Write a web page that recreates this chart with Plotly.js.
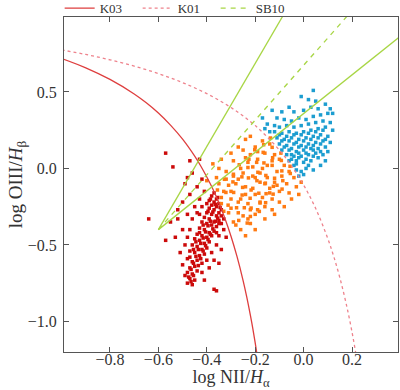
<!DOCTYPE html>
<html>
<head>
<meta charset="utf-8">
<script src="https://cdn.plot.ly/plotly-3.0.1.min.js"></script>
<style>
  html, body { margin: 0; padding: 0; background: #fff; }
  #myDiv { width: 400px; height: 390px; }
</style>
</head>
<body>
<div id="myDiv"></div>
<script>
// dividing curves
var k03X = [-1.0, -0.9, -0.8, -0.7, -0.65, -0.6, -0.55, -0.5, -0.45, -0.425, -0.4, -0.375, -0.35, -0.325, -0.3, -0.275, -0.25, -0.235, -0.22, -0.21, -0.2, -0.19];
var k03Y = [0.719, 0.658, 0.582, 0.487, 0.429, 0.362, 0.283, 0.191, 0.08, 0.016, -0.056, -0.135, -0.225, -0.327, -0.443, -0.577, -0.733, -0.84, -0.959, -1.046, -1.14, -1.242];

var k01X = [-1.0, -0.9, -0.8, -0.7, -0.6, -0.5, -0.4, -0.3, -0.2, -0.1, -0.05, 0.0, 0.05, 0.1, 0.125, 0.15, 0.175, 0.2, 0.22];
var k01Y = [0.775, 0.745, 0.71, 0.669, 0.62, 0.561, 0.489, 0.398, 0.28, 0.12, 0.017, -0.108, -0.262, -0.459, -0.578, -0.716, -0.878, -1.069, -1.25];

var sb10X = [-0.6, 0.2];
var sb10Y = [-0.4, 1.032];

var wedgeUpX = [-0.6, 0.0];
var wedgeUpY = [-0.4, 1.23];
var wedgeLoX = [-0.6, 0.4];
var wedgeLoY = [-0.4, 0.865];

// galaxies, red group
var redX = [-0.37, -0.38, -0.36, -0.37, -0.39, -0.35, -0.36, -0.38, -0.40, -0.34, -0.35, -0.37, -0.39, -0.36, -0.38, -0.40, -0.34, -0.33, -0.35, -0.37, -0.39, -0.41, -0.36, -0.38, -0.40, -0.42, -0.34,
  -0.37, -0.39, -0.41, -0.43, -0.38, -0.40, -0.42, -0.44, -0.39, -0.41, -0.43, -0.45, -0.40, -0.42, -0.44, -0.46, -0.41, -0.43, -0.45, -0.47,
  -0.44, -0.46, -0.48, -0.42, -0.45, -0.47, -0.44, -0.46, -0.48, -0.47, -0.45, -0.48, -0.46,
  -0.41, -0.43, -0.45, -0.44, -0.47, -0.49, -0.42, -0.46, -0.50, -0.48, -0.46, -0.44, -0.52, -0.50, -0.48, -0.52, -0.55, -0.47, -0.49, -0.51, -0.50, -0.49, -0.47, -0.43, -0.57, -0.54, -0.48, -0.64, -0.57, -0.53,
  -0.33, -0.35, -0.32, -0.36, -0.34, -0.38, -0.37, -0.40, -0.39, -0.42, -0.35, -0.36, -0.37, -0.41,
  -0.355, -0.365, -0.345, -0.375, -0.355, -0.385, -0.395, -0.375, -0.405, -0.385, -0.415, -0.395, -0.425, -0.405, -0.435, -0.415, -0.445, -0.425,
  -0.455, -0.435, -0.465, -0.455, -0.475, -0.465, -0.385, -0.395, -0.415, -0.43, -0.445, -0.455, -0.47, -0.365, -0.35, -0.36, -0.42, -0.43];
var redY = [-0.16, -0.18, -0.2, -0.22, -0.21, -0.23, -0.25, -0.24, -0.23, -0.27, -0.29, -0.27, -0.26, -0.31, -0.3, -0.29, -0.31, -0.33, -0.34, -0.35, -0.33, -0.32, -0.38, -0.37, -0.36, -0.35, -0.36,
  -0.41, -0.42, -0.4, -0.39, -0.44, -0.45, -0.44, -0.43, -0.48, -0.49, -0.47, -0.46, -0.52, -0.53, -0.51, -0.5, -0.56, -0.57, -0.55, -0.54,
  -0.6, -0.61, -0.59, -0.62, -0.64, -0.65, -0.67, -0.69, -0.68, -0.72, -0.73, -0.75, -0.76,
  -0.15, -0.2, -0.25, -0.12, -0.17, -0.1, -0.07, -0.03, -0.22, -0.3, -0.33, -0.29, -0.33, -0.4, -0.45, -0.27, -0.35, -0.4, -0.5, -0.55, -0.63, -0.7, 0.05, 0.06, 0.1, 0.01, -0.06, -0.33, -0.47, -0.45,
  -0.4, -0.44, -0.45, -0.5, -0.53, -0.55, -0.6, -0.6, -0.65, -0.68, -0.62, -0.8, -0.79, -0.73,
  -0.19, -0.235, -0.255, -0.285, -0.325, -0.345, -0.375, -0.395, -0.415, -0.43, -0.455, -0.465, -0.49, -0.505, -0.53, -0.54, -0.575, -0.59,
  -0.62, -0.635, -0.66, -0.7, -0.71, -0.74, -0.2, -0.28, -0.37, -0.42, -0.48, -0.53, -0.58, -0.345, -0.36, -0.42, -0.25, -0.3];

// orange group
var orangeX = [-0.356, -0.312, -0.268, -0.321, -0.277, -0.233, -0.327, -0.289, -0.245, -0.220, -0.292, -0.254, -0.217, -0.290, -0.252, -0.221, -0.183,
  -0.255, -0.217, -0.180, -0.266, -0.228, -0.185, -0.157, -0.230, -0.193, -0.155, -0.226, -0.189, -0.158, -0.126, -0.194, -0.156, -0.125,
  -0.202, -0.164, -0.120, -0.089, -0.167, -0.130, -0.086, -0.165, -0.128, -0.090, -0.130, -0.092, -0.055, -0.137, -0.094, -0.056,
  -0.26, -0.24, -0.21, -0.18, -0.20, -0.23, -0.27, -0.30, -0.28, -0.25, -0.17, -0.15, -0.14, -0.17, -0.11, -0.13, -0.16, -0.19, -0.21, -0.24, -0.10, -0.08, -0.12, -0.19, -0.23, -0.28, -0.33, -0.34, -0.31, -0.20,
  -0.375, -0.34, -0.30, -0.27, -0.24, -0.32, -0.36, -0.29, -0.22, -0.40, -0.35,
  -0.03, -0.06, -0.10, -0.13, -0.02, -0.08, -0.16, -0.20, -0.24, -0.12, -0.05, -0.01,
  -0.34, -0.31, -0.29, -0.26, -0.22, -0.20, -0.16, -0.13, -0.10, -0.07, -0.04, -0.06, -0.09, -0.11, -0.14, -0.18, -0.22, -0.25, -0.30, -0.27,
  -0.24, -0.21, -0.18, -0.15, -0.12, -0.14, -0.17, -0.19, -0.22, -0.25, -0.23, -0.26, -0.29, -0.32, -0.35, -0.33, -0.30, -0.27, -0.20, -0.16];
var orangeY = [-0.141, -0.240, -0.340, -0.157, -0.257, -0.357, -0.071, -0.157, -0.257, -0.314, -0.088, -0.174, -0.259, -0.038, -0.124, -0.195, -0.281,
  -0.055, -0.141, -0.226, 0.024, -0.062, -0.162, -0.224, 0.006, -0.080, -0.165, 0.060, -0.025, -0.096, -0.168, 0.040, -0.046, -0.117,
  0.122, 0.036, -0.064, -0.135, 0.105, 0.020, -0.080, 0.155, 0.070, -0.016, 0.138, 0.052, -0.033, 0.199, 0.100, 0.014,
  -0.2, -0.12, -0.05, -0.09, -0.17, -0.23, -0.29, -0.2, -0.1, -0.03, 0.0, -0.06, -0.13, -0.19, -0.02, 0.05, 0.1, 0.06, 0.01, 0.07, 0.06, 0.02, -0.09, -0.27, -0.33, -0.37, -0.28, -0.19, -0.11, 0.14,
  0.03, 0.06, 0.1, 0.14, 0.19, -0.02, -0.06, 0.05, 0.21, -0.08, 0.0,
  -0.12, -0.16, -0.22, -0.27, -0.17, -0.25, -0.33, -0.4, -0.44, -0.3, -0.2, -0.09,
  -0.23, -0.29, -0.35, -0.4, -0.36, -0.3, -0.25, -0.2, -0.15, -0.1, -0.06, -0.02, -0.05, -0.11, -0.16, -0.22, -0.27, -0.31, -0.26, -0.22,
  -0.17, -0.13, -0.03, 0.02, 0.09, 0.16, 0.18, 0.11, 0.09, 0.12, 0.04, 0.0, -0.05, -0.07, -0.1, -0.15, -0.15, -0.07, -0.06, -0.1];

// blue group
var blueX = [-0.02, -0.01, 0.0, -0.03, 0.01, -0.04, 0.02,
  -0.06, -0.03, 0.0, 0.03, 0.06, -0.07, -0.04, -0.01, 0.02, 0.05, 0.08,
  -0.09, -0.06, -0.03, 0.0, 0.03, 0.06, 0.09, -0.1, -0.07, -0.04, -0.01, 0.02, 0.05, 0.08, -0.11, -0.08, -0.05, -0.02, 0.01, 0.04, 0.07, 0.1,
  -0.12, -0.09, -0.06, -0.03, 0.0, 0.03, 0.06, 0.09, -0.1, -0.07, -0.04, -0.01, 0.02, 0.05, 0.08, 0.11, -0.08, -0.05, -0.02, 0.01, 0.04, 0.07, 0.1,
  -0.04, 0.0, 0.03, 0.06, 0.09, 0.02, 0.05, -0.01, 0.04, 0.12, 0.11,
  -0.17, -0.15, -0.13, -0.11, -0.14, -0.12, -0.09, -0.06, -0.16,
  0.09, 0.1, 0.07, 0.04, 0.11, 0.12,
  -0.05, -0.02, 0.01, 0.04, 0.07, -0.08, -0.05, -0.02, 0.01, 0.04, 0.07, -0.09, -0.06, -0.03, 0.0, 0.03, 0.06, 0.09,
  -0.1, -0.07, -0.04, -0.01, 0.02, 0.05, 0.08, -0.05, -0.02, 0.01, 0.04, -0.03];
var blueY = [-0.05, -0.02, -0.04, -0.01, 0.0, 0.02, 0.02,
  0.05, 0.05, 0.04, 0.05, 0.07, 0.09, 0.08, 0.08, 0.09, 0.1, 0.09,
  0.12, 0.12, 0.11, 0.12, 0.13, 0.13, 0.14, 0.16, 0.15, 0.16, 0.15, 0.16, 0.17, 0.18, 0.2, 0.19, 0.2, 0.19, 0.2, 0.21, 0.22, 0.21,
  0.24, 0.23, 0.24, 0.23, 0.24, 0.25, 0.26, 0.27, 0.27, 0.28, 0.27, 0.28, 0.29, 0.3, 0.31, 0.3, 0.32, 0.31, 0.33, 0.32, 0.34, 0.35, 0.36,
  0.37, 0.38, 0.4, 0.39, 0.42, 0.45, 0.44, 0.47, 0.51, 0.36, 0.39,
  0.33, 0.29, 0.38, 0.33, 0.24, 0.28, 0.37, 0.4, 0.26,
  0.05, 0.11, 0.02, -0.01, 0.17, 0.25,
  0.09, 0.1, 0.1, 0.12, 0.11, 0.14, 0.13, 0.14, 0.14, 0.15, 0.16, 0.18, 0.18, 0.17, 0.18, 0.19, 0.2, 0.19,
  0.22, 0.21, 0.22, 0.22, 0.23, 0.24, 0.25, 0.06, 0.07, 0.06, 0.08, 0.03];

var xTicks = [-0.8, -0.6, -0.4, -0.2, 0.0, 0.2];
var yTicks = [-1.0, -0.5, 0.0, 0.5];

var serif = '"Liberation Serif"';

function cloud(x, y, color) {
    return {
        x: x, y: y,
        type: 'scatter',
        mode: 'markers',
        marker: {symbol: 'square', size: 3.5, color: color, line: {width: 0}},
        showlegend: false,
        hoverinfo: 'skip'
    };
}

var data = [
    cloud(redX, redY, '#cc0a0a'),
    cloud(orangeX, orangeY, '#ff7a12'),
    cloud(blueX, blueY, '#1c9dd0'),
    {
        x: k03X, y: k03Y, type: 'scatter', mode: 'lines', name: 'K03',
        line: {color: 'rgb(222,62,62)', width: 1.3, shape: 'spline'}
    },
    {
        x: k01X, y: k01Y, type: 'scatter', mode: 'lines', name: 'K01',
        line: {color: 'rgb(238,130,140)', width: 1.3, dash: 'dot', shape: 'spline'}
    },
    {
        x: sb10X, y: sb10Y, type: 'scatter', mode: 'lines', name: 'SB10',
        line: {color: '#a8d645', width: 1.3, dash: '5px,5px'}
    },
    {
        x: wedgeUpX, y: wedgeUpY, type: 'scatter', mode: 'lines', showlegend: false,
        line: {color: '#a8d645', width: 1.3}
    },
    {
        x: wedgeLoX, y: wedgeLoY, type: 'scatter', mode: 'lines', showlegend: false,
        line: {color: '#a8d645', width: 1.3}
    }
];

var axisStyle = {
    showgrid: false,
    zeroline: false,
    showline: true,
    mirror: 'ticks',
    linecolor: '#555',
    linewidth: 1,
    ticks: 'inside',
    ticklen: 5,
    tickcolor: '#555',
    tickformat: '.1f',
    automargin: true,
    tickfont: {family: serif, size: 16, color: '#333'}
};

var layout = {
    width: 400,
    height: 390,
    margin: {l: 64, r: 2, t: 17, b: 38, autoexpand: false},
    paper_bgcolor: '#fff',
    plot_bgcolor: '#fff',
    font: {family: serif, color: '#333'},
    xaxis: Object.assign({}, axisStyle, {
        range: [-0.99, 0.39],
        tickvals: xTicks,
        ticklabelstandoff: -7,
        title: {text: 'log NII/<i>H</i><sub>α</sub>', font: {family: serif, size: 18, color: '#333'}, standoff: 5}
    }),
    yaxis: Object.assign({}, axisStyle, {
        range: [-1.2, 0.99],
        tickvals: yTicks,
        ticklabelstandoff: 3,
        title: {text: 'log OIII/<i>H</i><sub>β</sub>', font: {family: serif, size: 19, color: '#333'}, standoff: 0}
    }),
    showlegend: true,
    legend: {
        orientation: 'h',
        x: -0.013,
        xanchor: 'left',
        y: 1.071,
        yanchor: 'top',
        entrywidth: 33,
        entrywidthmode: 'pixels',
        font: {family: serif, size: 13, color: '#333'},
        bgcolor: 'rgba(0,0,0,0)'
    }
};

Plotly.newPlot('myDiv', data, layout, {displayModeBar: false, staticPlot: true});
</script>
</body>
</html>
